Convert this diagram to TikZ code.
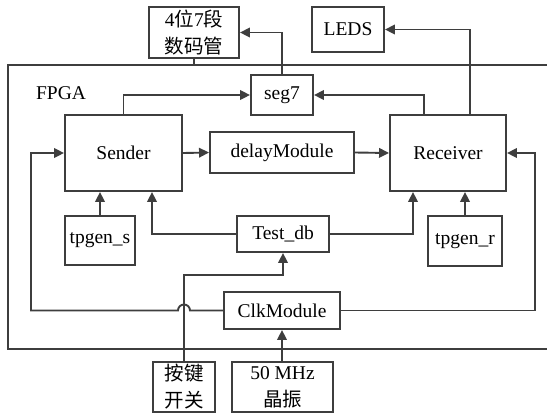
\documentclass[tikz,border=0pt]{standalone}
\usepackage{fontspec}
\setmainfont{Liberation Serif}
\newfontfamily\cjk{Noto Sans CJK SC}
\usetikzlibrary{arrows.meta,calc}
\definecolor{ink}{RGB}{62,62,62}
\begin{document}
\begin{tikzpicture}[x=1pt,y=-1pt,
  font=\fontsize{19.5}{27}\selectfont,
  box/.style={draw=ink,line width=1.9pt,rectangle,inner sep=0pt,align=center,text=black},
  wire/.style={draw=ink,line width=1.9pt},
  arr/.style={wire,-{Triangle[length=10pt,width=9.5pt]}}]
\useasboundingbox (0,0) rectangle (547,416);

% FPGA boundary (open to the right edge)
\draw[wire] (547,65) -- (8,65) -- (8,349) -- (547,349);
\node[anchor=center,text=black] (fpga) at (61,93) {FPGA};

% external devices
\node[box,minimum width=90pt,minimum height=51pt] (disp) at (194,32.5) {4{\cjk 位}7{\cjk 段}\\{\cjk 数码管}};
\node[box,minimum width=72pt,minimum height=45pt] (leds) at (348,29.5) {LEDS};
\node[box,minimum width=62pt,minimum height=50pt] (key) at (184,387) {{\cjk 按键}\\{\cjk 开关}};
\node[box,minimum width=101pt,minimum height=50pt] (osc) at (282.5,387) {50 MHz\\{\cjk 晶振}};

% modules inside the FPGA
\node[box,minimum width=62pt,minimum height=40pt] (seg7) at (282,95) {seg7};
\node[box,minimum width=117pt,minimum height=76pt] (sender) at (123.5,153) {Sender};
\node[box,minimum width=144pt,minimum height=41pt] (delay) at (282,152.5) {delayModule};
\node[box,minimum width=116pt,minimum height=76pt] (receiver) at (448,153) {Receiver};
\node[box,minimum width=70pt,minimum height=49pt] (tpgens) at (100,240.5) {tpgen\_s};
\node[box,minimum width=92pt,minimum height=36pt] (testdb) at (283,234) {Test\_db};
\node[box,minimum width=74pt,minimum height=50pt] (tpgenr) at (465,241) {tpgen\_r};
\node[box,minimum width=116pt,minimum height=37pt] (clk) at (282,310.5) {ClkModule};

% turning points
\coordinate (fpgatop) at (194,65);
\coordinate (keyturn) at (184,275);
\coordinate (hop) at (184,310.5);
\coordinate (lbus) at (31,310.5);
\coordinate (rbus) at (535,310.5);

% display outputs
\draw[wire] (disp.south) -- (fpgatop);
\draw[arr] (seg7.north) |- (disp.east);
\draw[arr] ([xshift=22pt]receiver.north) |- (leds.east);
\draw[arr] (sender.north) |- (seg7.west);
\draw[arr] ([xshift=-24pt]receiver.north) |- (seg7.east);

% data path
\draw[arr] (sender.east) -- (delay.west);
\draw[arr] (delay.east) -- (receiver.west);

% pattern generators and test input
\draw[arr] (tpgens.north) -- (tpgens.north |- sender.south);
\draw[arr] (tpgenr.north) -- (tpgenr.north |- receiver.south);
\draw[arr] (testdb.west) -| ([xshift=28.5pt]sender.south);
\draw[arr] (testdb.east) -| ([xshift=-35pt]receiver.south);
\draw[arr] (key.north) -- (keyturn) -| (testdb.south);

% clock distribution
\draw[arr] (osc.north -| clk.south) -- (clk.south);
\draw[arr] (clk.west) -- ($(hop)+(6,0)$) arc[start angle=0,end angle=180,radius=6pt] -- (lbus) |- (sender.west);
\draw[arr] (clk.east) -- (rbus) |- (receiver.east);
\end{tikzpicture}
\end{document}
